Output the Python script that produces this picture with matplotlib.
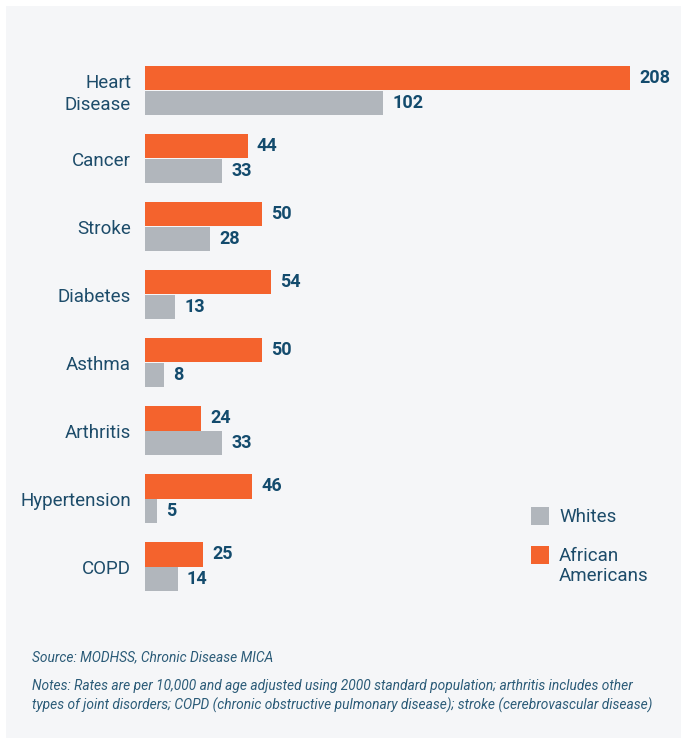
import matplotlib.pyplot as plt
import numpy as np
from matplotlib.patches import Rectangle

# ---- data ----
categories = ["Heart\nDisease", "Cancer", "Stroke", "Diabetes", "Asthma",
              "Arthritis", "Hypertension", "COPD"]
african_americans = [208, 44, 50, 54, 50, 24, 46, 25]
whites = [102, 33, 28, 13, 8, 33, 5, 14]

ORANGE = "#f4632d"
GRAY = "#b1b6bc"
TEXT = "#1d4c6a"
VAL = "#134b6d"
BG = "#f5f6f8"

W, H = 681, 738
fig = plt.figure(figsize=(W / 100, H / 100), dpi=100)
fig.patch.set_facecolor("white")
fig.patches.append(Rectangle((6 / W, 0), 1, 1 - 6 / H, transform=fig.transFigure,
                             facecolor=BG, edgecolor="none", zorder=-10))

# axes in pixel terms: x0=145 px, 2.332 px per unit; group pitch 68 px
left, right = 145, 681
top, bottom = 90.5 - 0.6 * 68, 90.5 + 7.6 * 68
ax = fig.add_axes([left / W, 1 - bottom / H, (right - left) / W, (bottom - top) / H])
ax.set_facecolor("none")
ax.set_xlim(0, (right - left) / 2.332)
ax.set_ylim(7.6, -0.6)

y = np.arange(len(categories))
h = 0.365
ax.barh(y - h / 2, african_americans, height=h, color=ORANGE)
ax.barh(y + h / 2, whites, height=h, color=GRAY)

for yi, v in zip(y, african_americans):
    ax.text(v + 4, yi - h / 2, str(v), va="center", ha="left", fontsize=13,
            fontweight="bold", color=VAL, family="Roboto")
for yi, v in zip(y, whites):
    ax.text(v + 4, yi + h / 2, str(v), va="center", ha="left", fontsize=13,
            fontweight="bold", color=VAL, family="Roboto")

ax.set_yticks(y)
ax.set_yticklabels(categories, fontsize=13.5, color=TEXT, family="Roboto",
                   linespacing=1.25)
ax.tick_params(axis="y", length=0, pad=10)
ax.set_xticks([])
for s in ax.spines.values():
    s.set_visible(False)

# legend
for ypx, col in [(516, GRAY), (555, ORANGE)]:
    fig.patches.append(Rectangle((531 / W, 1 - (ypx + 9) / H), 18 / W, 18 / H,
                                 transform=fig.transFigure, facecolor=col,
                                 edgecolor="none"))
fig.text(559 / W, 1 - 517 / H, "Whites", fontsize=13.5, color=TEXT,
         family="Roboto", va="center")
fig.text(559 / W, 1 - 566 / H, "African\nAmericans", fontsize=13.5, color=TEXT,
         family="Roboto", va="center", linespacing=1.2)

# footer
foot = dict(fontsize=9.9, color="#2b5b78", family="Roboto", style="italic",
            va="center")
fig.text(32 / W, 1 - 657 / H, "Source: MODHSS, Chronic Disease MICA", **foot)
fig.text(32 / W, 1 - 696 / H,
         "Notes: Rates are per 10,000 and age adjusted using 2000 standard "
         "population; arthritis includes other\ntypes of joint disorders; COPD "
         "(chronic obstructive pulmonary disease); stroke (cerebrovascular disease)",
         linespacing=1.45, **foot)

fig.savefig("out.png", dpi=100)
